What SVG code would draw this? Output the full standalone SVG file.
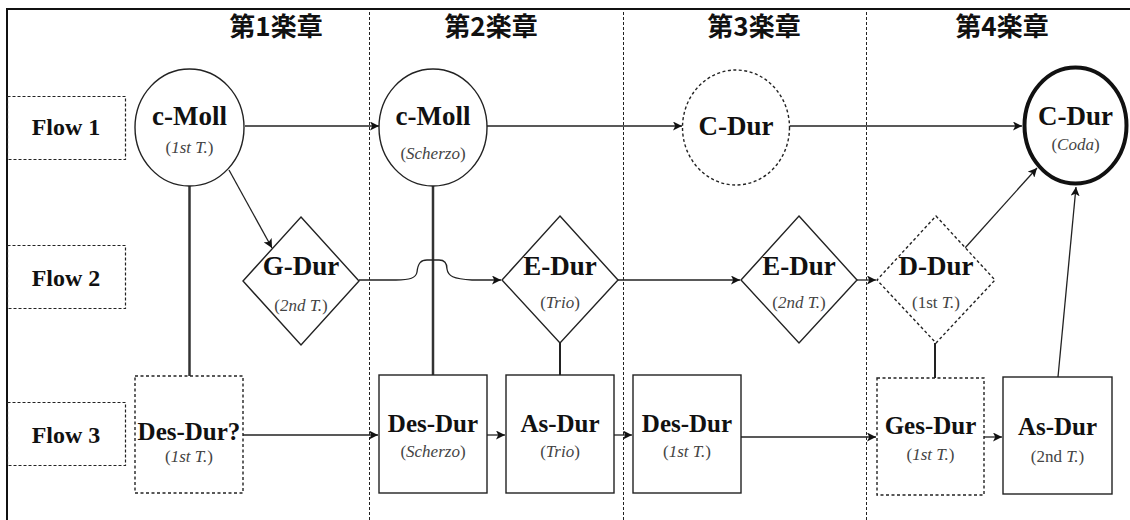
<svg xmlns="http://www.w3.org/2000/svg" width="1130" height="520" viewBox="0 0 1130 520">
<defs>
<marker id="ah" viewBox="0 0 10 10" refX="10" refY="5" markerWidth="9" markerHeight="9" markerUnits="userSpaceOnUse" orient="auto">
<path d="M0,0 L10,5 L0,10 L2.5,5 z" fill="#111"/>
</marker>
<style>
.frame{fill:none;stroke:#111;stroke-width:2}
.div{stroke:#222;stroke-width:1;stroke-dasharray:3,2;fill:none}
.hdr{font-family:"Noto Sans CJK JP","Noto Sans",sans-serif;font-weight:bold;font-size:26px;fill:#111;text-anchor:middle}
.flowbox{fill:none;stroke:#222;stroke-width:1.2;stroke-dasharray:3,2}
.flow{font-family:"Liberation Serif","Times New Roman",serif;font-weight:bold;font-size:24px;fill:#111;text-anchor:middle}
.shape{fill:#fff;stroke:#222;stroke-width:1.4}
.dash{stroke-dasharray:3,2.5}
.thick{stroke-width:4;stroke:#111}
.big{font-family:"Liberation Serif","Times New Roman",serif;font-weight:bold;font-size:27px;fill:#111;text-anchor:middle}
.mid{font-family:"Liberation Serif","Times New Roman",serif;font-weight:bold;font-size:25px;fill:#111;text-anchor:middle}
.sub{font-family:"Liberation Serif","Times New Roman",serif;font-size:17px;fill:#444;text-anchor:middle}
.it{font-style:italic}
.arr{fill:none;stroke:#222;stroke-width:1.3;marker-end:url(#ah)}
.lnk{fill:none;stroke:#333;stroke-width:2.5}
.lnk2{fill:none;stroke:#222;stroke-width:2}
</style>
</defs>
<rect width="1130" height="520" fill="#fff"/>
<path class="frame" d="M7,521 L7,9 L1131,9"/>
<g id="dividers">
<line class="div" x1="369.5" y1="12" x2="369.5" y2="520"/>
<line class="div" x1="623.5" y1="12" x2="623.5" y2="520"/>
<line class="div" x1="866.5" y1="12" x2="866.5" y2="520"/>
</g>
<g id="headers">
<text class="hdr" x="276" y="36">第1楽章</text>
<text class="hdr" x="491" y="36">第2楽章</text>
<text class="hdr" x="754" y="36">第3楽章</text>
<text class="hdr" x="1002" y="36">第4楽章</text>
</g>
<g id="flow1"><rect class="flowbox" x="7.5" y="96.5" width="118" height="63"/><text class="flow" x="66" y="135">Flow 1</text></g>
<g id="flow2"><rect class="flowbox" x="7.5" y="245.5" width="118" height="63"/><text class="flow" x="66" y="286">Flow 2</text></g>
<g id="flow3"><rect class="flowbox" x="7.5" y="402.5" width="118" height="63"/><text class="flow" x="66" y="443">Flow 3</text></g>

<g id="connectors">
<line class="arr" x1="245" y1="126" x2="379" y2="126"/>
<line class="arr" x1="487" y1="126" x2="682" y2="126"/>
<line class="arr" x1="790" y1="126" x2="1022" y2="126"/>
<line class="arr" x1="229" y1="170" x2="272" y2="248"/>
<line class="lnk" x1="189.5" y1="186" x2="189.5" y2="376"/>
<line class="lnk" x1="433" y1="186" x2="433" y2="375"/>
<line class="lnk2" x1="560" y1="343" x2="560" y2="375"/>
<line class="lnk2" x1="935" y1="343" x2="935" y2="378"/>
<path class="arr" d="M359,280 L396,280 C410,280 416,278 417,272 C418,263 421,260 427,260 L439,260 C444,260 447,263 447,269 C448,276 453,279 472,280 L501,280"/>
<line class="arr" x1="618" y1="280" x2="740" y2="280"/>
<line class="arr" x1="857" y1="280" x2="876" y2="280"/>
<line class="arr" x1="965" y1="248" x2="1037" y2="168"/>
<line class="arr" x1="1058" y1="377" x2="1076" y2="187"/>
<line class="arr" x1="243" y1="435" x2="378" y2="435"/>
<line class="arr" x1="487" y1="435" x2="505" y2="435"/>
<line class="arr" x1="614" y1="435" x2="632" y2="435"/>
<line class="arr" x1="741" y1="437" x2="876" y2="437"/>
<line class="arr" x1="984" y1="437" x2="1002" y2="437"/>
</g>

<g id="n-cmoll1"><ellipse class="shape" cx="189.5" cy="127.5" rx="54.5" ry="58.5"/>
<text class="big" x="189.5" y="125">c-Moll</text>
<text class="sub" x="189.5" y="153">(<tspan class="it">1st T.</tspan>)</text></g>
<g id="n-cmoll2"><ellipse class="shape" cx="433" cy="127.5" rx="54" ry="58.5"/>
<text class="big" x="433" y="125">c-Moll</text>
<text class="sub" x="433" y="159">(<tspan class="it">Scherzo</tspan>)</text></g>
<g id="n-cdur1"><ellipse class="shape dash" cx="736" cy="127.5" rx="53.5" ry="57.5"/>
<text class="big" x="736" y="135">C-Dur</text></g>
<g id="n-cdur2"><ellipse class="shape thick" cx="1075.5" cy="125.5" rx="51" ry="58"/>
<text class="big" x="1075.5" y="125">C-Dur</text>
<text class="sub" x="1075.5" y="150">(<tspan class="it">Coda</tspan>)</text></g>

<g id="n-gdur"><polygon class="shape" points="301,217 359,281 301,345 243,281"/>
<text class="big" x="301" y="275">G-Dur</text>
<text class="sub" x="301" y="311">(<tspan class="it">2nd T.</tspan>)</text></g>
<g id="n-edur1"><polygon class="shape" points="560,216 618,280 560,343 502,280"/>
<text class="big" x="560" y="275">E-Dur</text>
<text class="sub" x="560" y="308">(<tspan class="it">Trio</tspan>)</text></g>
<g id="n-edur2"><polygon class="shape" points="799,216 857,280 799,343 741,280"/>
<text class="big" x="799" y="275">E-Dur</text>
<text class="sub" x="799" y="308">(<tspan class="it">2nd T.</tspan>)</text></g>
<g id="n-ddur"><polygon class="shape dash" points="936,216 995,280 936,343 877,280"/>
<text class="big" x="936" y="275">D-Dur</text>
<text class="sub" x="936" y="308">(1st <tspan class="it">T.</tspan>)</text></g>

<g id="n-desdur0"><rect class="shape dash" x="135" y="376" width="108" height="117"/>
<text class="mid" x="189" y="440">Des-Dur?</text>
<text class="sub" x="189" y="462">(<tspan class="it">1st T.</tspan>)</text></g>
<g id="n-desdur1"><rect class="shape" x="379" y="375" width="108" height="118"/>
<text class="mid" x="433" y="432">Des-Dur</text>
<text class="sub" x="433" y="457">(<tspan class="it">Scherzo</tspan>)</text></g>
<g id="n-asdur1"><rect class="shape" x="506" y="375" width="108" height="118"/>
<text class="mid" x="560" y="432">As-Dur</text>
<text class="sub" x="560" y="457">(<tspan class="it">Trio</tspan>)</text></g>
<g id="n-desdur2"><rect class="shape" x="633" y="375" width="108" height="118"/>
<text class="mid" x="687" y="432">Des-Dur</text>
<text class="sub" x="687" y="457">(<tspan class="it">1st T.</tspan>)</text></g>
<g id="n-gesdur"><rect class="shape dash" x="877" y="378" width="107" height="117"/>
<text class="mid" x="930.5" y="434">Ges-Dur</text>
<text class="sub" x="930.5" y="460">(<tspan class="it">1st T.</tspan>)</text></g>
<g id="n-asdur2"><rect class="shape" x="1003" y="377" width="109" height="117"/>
<text class="mid" x="1057.5" y="435">As-Dur</text>
<text class="sub" x="1057.5" y="462">(2nd <tspan class="it">T.</tspan>)</text></g>
</svg>
